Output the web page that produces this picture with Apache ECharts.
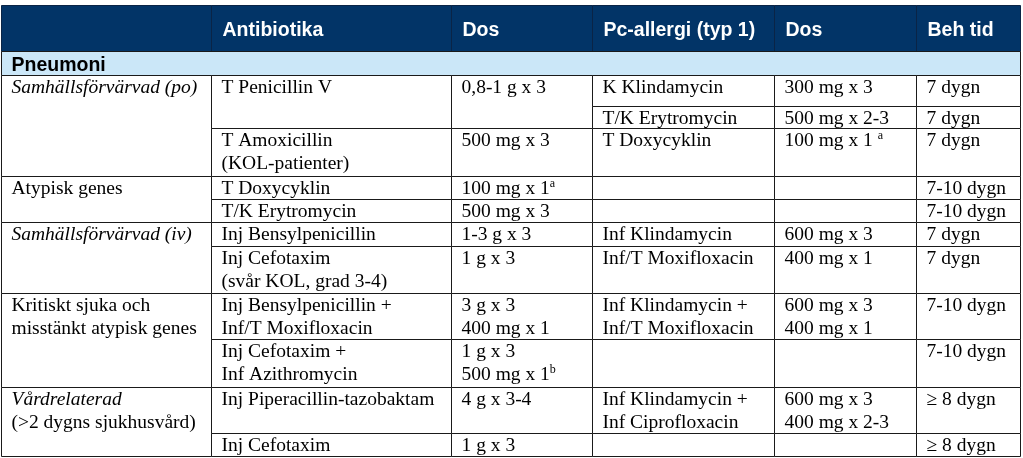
<!DOCTYPE html>
<html><head><meta charset="utf-8">
<script src="https://cdn.jsdelivr.net/npm/echarts@6/dist/echarts.min.js"></script>
<style>html,body{margin:0;padding:0;background:#fff;}#c{width:1023px;height:458px;}</style>
</head><body><div id="c"></div>
<script>
// ---- table content ----
const headers = ['', 'Antibiotika', 'Dos', 'Pc-allergi (typ 1)', 'Dos', 'Beh tid'];
const section = 'Pneumoni';
const indications = [
  '{i|Samhällsförvärvad (po)}',
  'Atypisk genes',
  '{i|Samhällsförvärvad (iv)}',
  'Kritiskt sjuka och\nmisstänkt atypisk genes',
  '{i|Vårdrelaterad}\n(>2 dygns sjukhusvård)'
];
const indicationRows = [[0, 2], [3, 4], [5, 6], [7, 8], [9, 10]];
const antibiotika = [
  'T Penicillin V',
  'T Amoxicillin\n(KOL-patienter)',
  'T Doxycyklin',
  'T/K Erytromycin',
  'Inj Bensylpenicillin',
  'Inj Cefotaxim\n(svår KOL, grad 3-4)',
  'Inj Bensylpenicillin +\nInf/T Moxifloxacin',
  'Inj Cefotaxim +\nInf Azithromycin',
  'Inj Piperacillin-tazobaktam',
  'Inj Cefotaxim'
];
const antibiotikaRows = [[0, 1], [2, 2], [3, 3], [4, 4], [5, 5], [6, 6], [7, 7], [8, 8], [9, 9], [10, 10]];
const dos = [
  '0,8-1 g x 3',
  '500 mg x 3',
  '100 mg x 1{sup|a}',
  '500 mg x 3',
  '1-3 g x 3',
  '1 g x 3',
  '3 g x 3\n400 mg x 1',
  '1 g x 3\n500 mg x 1{sup|b}',
  '4 g x 3-4',
  '1 g x 3'
];
const pcAllergi = [
  'K Klindamycin', 'T/K Erytromycin', 'T Doxycyklin', '', '',
  'Inf Klindamycin', 'Inf/T Moxifloxacin', 'Inf Klindamycin +\nInf/T Moxifloxacin', '',
  'Inf Klindamycin +\nInf Ciprofloxacin', ''
];
const pcDos = [
  '300 mg x 3', '500 mg x 2-3', '100 mg x 1 {sup|a}', '', '',
  '600 mg x 3', '400 mg x 1', '600 mg x 3\n400 mg x 1', '',
  '600 mg x 3\n400 mg x 2-3', ''
];
const behTid = [
  '7 dygn', '7 dygn', '7 dygn', '7-10 dygn', '7-10 dygn',
  '7 dygn', '7 dygn', '7-10 dygn', '7-10 dygn', '≥ 8 dygn', '≥ 8 dygn'
];

// ---- layout (axis units = pixels) ----
const colEdges = [1.5, 211.5, 451.5, 592.5, 774.5, 916.5, 1020.5];
const headerTop = 5.5, headerBottom = 51.5, bandBottom = 75.5;
const rowEdges = [75.5, 106.5, 128.5, 176.5, 199.5, 222.5, 246.5, 293.5, 339.5, 387.5, 433.5, 456.5];

const cells = [];
headers.forEach((t, i) => cells.push({kind: 'header', c0: i, c1: i + 1, y0: headerTop, y1: headerBottom, text: t}));
cells.push({kind: 'band', c0: 0, c1: 6, y0: headerBottom, y1: bandBottom, text: section});
function addCol(texts, rows, col) {
  texts.forEach((t, i) => {
    const r = rows ? rows[i] : [i, i];
    cells.push({kind: 'body', c0: col, c1: col + 1, y0: rowEdges[r[0]], y1: rowEdges[r[1] + 1], text: t});
  });
}
addCol(indications, indicationRows, 0);
addCol(antibiotika, antibiotikaRows, 1);
addCol(dos, antibiotikaRows, 2);
addCol(pcAllergi, null, 3);
addCol(pcDos, null, 4);
addCol(behTid, null, 5);

const serif = "'Liberation Serif', 'Times New Roman', serif";
const sans = "'Liberation Sans', Arial, sans-serif";
const FS = 19.5, LH = 23;

function renderItem(params, api) {
  const m = cells[params.dataIndex];
  const p0 = api.coord([api.value(0), api.value(1)]);
  const p1 = api.coord([api.value(2), api.value(3)]);
  const rect = {x: p0[0], y: p0[1], width: p1[0] - p0[0], height: p1[1] - p0[1]};
  let fill = '#ffffff', stroke = '#1a1a1a';
  let textEl;
  if (m.kind === 'header') {
    fill = '#023467'; stroke = '#0a2446';
    textEl = {type: 'text', x: p0[0] + 11, y: (p0[1] + p1[1]) / 2 + 2,
      style: {text: m.text, fill: '#ffffff', fontFamily: sans, fontWeight: 'bold', fontSize: FS,
        align: 'left', verticalAlign: 'middle'}};
  } else if (m.kind === 'band') {
    fill = '#cbe7f8'; stroke = '#1a1a1a';
    textEl = {type: 'text', x: p0[0] + 10, y: (p0[1] + p1[1]) / 2 + 2.5,
      style: {text: m.text, fill: '#000000', fontFamily: sans, fontWeight: 'bold', fontSize: FS,
        align: 'left', verticalAlign: 'middle'}};
  } else {
    textEl = {type: 'text', x: p0[0] + 10, y: p0[1] + 1,
      style: {text: m.text, fill: '#000000', fontFamily: serif, fontSize: FS, lineHeight: LH,
        align: 'left', verticalAlign: 'top',
        rich: {
          i: {fontFamily: serif, fontSize: FS, lineHeight: LH, fontStyle: 'italic', fill: '#000'},
          sup: {fontFamily: serif, fontSize: 12, lineHeight: 12, verticalAlign: 'top', fill: '#000'}
        }}};
  }
  return {type: 'group', children: [
    {type: 'rect', shape: rect, style: {fill: fill, stroke: stroke, lineWidth: 1}},
    textEl
  ]};
}

const chart = echarts.init(document.getElementById('c'), null, {renderer: 'canvas'});
chart.setOption({
  animation: false,
  grid: {left: 0, right: 0, top: 0, bottom: 0},
  xAxis: {type: 'value', min: 0, max: 1023, show: false},
  yAxis: {type: 'value', min: 0, max: 458, inverse: true, show: false},
  series: [{
    type: 'custom',
    renderItem: renderItem,
    clip: false,
    data: cells.map(c => [colEdges[c.c0], c.y0, colEdges[c.c1], c.y1])
  }]
});
</script>
</body></html>
